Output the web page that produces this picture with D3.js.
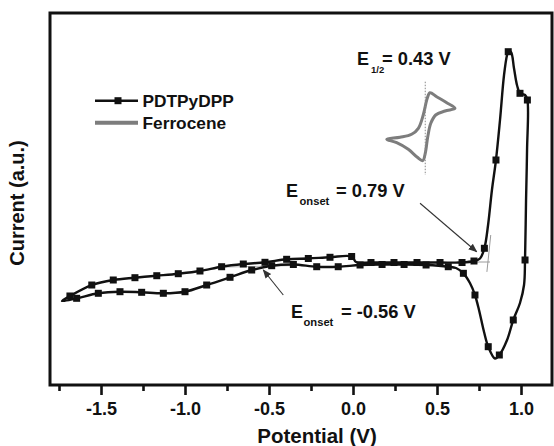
<!DOCTYPE html>
<html><head><meta charset="utf-8">
<script src="https://cdn.jsdelivr.net/npm/d3@7"></script>
<style>
html,body{margin:0;padding:0;background:#fff;}
svg{display:block;font-family:"Liberation Sans",Arial,sans-serif;font-weight:bold;}
</style></head>
<body><svg id="chart" width="554" height="446"></svg>
<script>
// ---- data ----
const majorTicks = [-1.5, -1.0, -0.5, 0.0, 0.5, 1.0];
const tickLabels = ["-1.5", "-1.0", "-0.5", "0.0", "0.5", "1.0"];
const minorTicks = [-1.75, -1.25, -0.75, -0.25, 0.25, 0.75];

// PDTPyDPP cyclic voltammogram (potential V, current a.u., marker flag)
const pdtPotential = [-1.732,-1.685,-1.555,-1.427,-1.298,-1.168,-1.040,-0.911,-0.782,-0.653,-0.524,-0.395,-0.266,-0.137,-0.008,
  0.018,0.107,0.244,0.381,0.518,0.649,0.720,0.756,0.782,0.804,0.827,0.851,0.875,0.899,0.917,0.924,0.940,0.958,0.976,0.994,1.024,1.038,
  1.036,1.030,1.024,1.018,0.994,0.954,0.917,0.871,0.845,0.805,0.780,0.750,0.726,0.696,0.657,0.613,0.567,
  0.435,0.304,0.173,0.042,-0.088,-0.216,-0.355,-0.484,-0.603,-0.732,-0.871,-1.000,-1.129,-1.258,-1.387,-1.516,-1.645];
const pdtCurrent = [-1.30,-1.133,-0.767,-0.600,-0.523,-0.457,-0.390,-0.300,-0.157,-0.067,-0.010,0.090,0.117,0.157,0.183,
  0.000,-0.017,-0.017,-0.017,-0.017,-0.017,0.033,0.117,0.457,1.233,2.400,3.400,4.733,6.233,6.900,7.010,7.000,6.467,5.900,5.623,5.567,5.400,
  3.733,2.067,0.067,-0.767,-1.367,-1.933,-2.600,-3.100,-3.217,-2.823,-2.333,-1.600,-1.100,-0.700,-0.377,-0.200,-0.157,
  -0.100,-0.083,-0.083,-0.100,-0.157,-0.157,-0.083,-0.123,-0.267,-0.510,-0.767,-0.990,-1.043,-1.010,-0.990,-1.043,-1.210];
const pdtMarker = [0,1,1,1,1,1,1,1,1,1,1,1,1,1,1,
  0,1,1,1,1,1,1,0,1,0,0,1,0,0,0,1,0,0,0,1,0,1,
  0,0,1,0,0,1,0,1,0,1,0,0,1,0,1,0,1,
  1,1,1,1,1,1,1,1,1,1,1,1,1,1,1,1,1];

// Ferrocene inset loop
const fcPotential = [0.201,0.280,0.349,0.389,0.418,0.442,0.458,0.498,0.558,0.607,0.548,0.492,0.463,0.445,0.430,0.415,0.383,0.329,0.260];
const fcCurrent   = [4.090,4.157,4.257,4.457,4.900,5.457,5.643,5.510,5.310,5.123,5.033,4.900,4.623,4.177,3.623,3.377,3.490,3.757,3.977];

const eHalf = 0.43;
const seriesNames = ["PDTPyDPP", "Ferrocene"];

// ---- chart ----
const svg = d3.select("#chart");
const L = 50, R = 552, T = 13, B = 385;
const x = d3.scaleLinear().domain([-1.8036, 1.1845]).range([L, R]);
const y = d3.scaleLinear().domain([-4.1, 8.3]).range([B, T]);
const black = "#111";
const grey = "#7d7d7d";

// tangent helper lines
const thin = svg.append("g").attr("stroke", "#9a9a9a").attr("stroke-width", 1).attr("fill", "none");
thin.append("line").attr("x1", x(0.62)).attr("x2", x(0.815)).attr("y1", y(0)).attr("y2", y(0));
thin.append("line").attr("x1", x(0.797)).attr("x2", x(0.82)).attr("y1", y(-0.33)).attr("y2", y(0.9));
thin.append("line").attr("x1", x(-0.76)).attr("x2", x(-0.36)).attr("y1", y(-0.17)).attr("y2", y(-0.12)).attr("stroke", "#bbb");

// ferrocene
const fcPts = fcPotential.map((v, i) => [v, fcCurrent[i]]);
svg.append("path").datum(fcPts)
  .attr("d", d3.line().x(d => x(d[0])).y(d => y(d[1])).curve(d3.curveCatmullRomClosed.alpha(0.5)))
  .attr("fill", "none").attr("stroke", grey).attr("stroke-width", 3);
svg.append("line").attr("x1", x(eHalf)).attr("x2", x(eHalf)).attr("y1", y(6.01)).attr("y2", y(2.90))
  .attr("stroke", "#888").attr("stroke-width", 1).attr("stroke-dasharray", "1.5,1.5");

// PDTPyDPP
const pdtPts = pdtPotential.map((v, i) => [v, pdtCurrent[i], pdtMarker[i]]);
svg.append("path").datum(pdtPts)
  .attr("d", d3.line().x(d => x(d[0])).y(d => y(d[1])).curve(d3.curveCatmullRomClosed.alpha(0.5)))
  .attr("fill", "none").attr("stroke", black).attr("stroke-width", 2.4).attr("stroke-linejoin", "round");
const ms = 7;
svg.append("g").selectAll("rect").data(pdtPts.filter(d => d[2])).join("rect")
  .attr("x", d => x(d[0]) - ms / 2).attr("y", d => y(d[1]) - ms / 2)
  .attr("width", ms).attr("height", ms).attr("fill", black);

// arrows
const defs = svg.append("defs");
defs.append("marker").attr("id", "ah").attr("viewBox", "0 0 10 10").attr("refX", 9).attr("refY", 5)
  .attr("markerWidth", 9).attr("markerHeight", 9).attr("markerUnits", "userSpaceOnUse").attr("orient", "auto")
  .append("path").attr("d", "M0,1 L10,5 L0,9 Z").attr("fill", "#333");
svg.append("line").attr("x1", x(0.399)).attr("y1", y(1.957)).attr("x2", x(0.736)).attr("y2", y(0.343))
  .attr("stroke", "#333").attr("stroke-width", 1.1).attr("marker-end", "url(#ah)");
svg.append("line").attr("x1", x(-0.415)).attr("y1", y(-1.10)).attr("x2", x(-0.534)).attr("y2", y(-0.267))
  .attr("stroke", "#333").attr("stroke-width", 1.1).attr("marker-end", "url(#ah)");

// annotations
function ann(xE, yb, sub, xSub, subSize, rest, xRest) {
  const g = svg.append("g").attr("fill", black);
  g.append("text").attr("x", xE).attr("y", yb).attr("font-size", 18).text("E");
  g.append("text").attr("x", xSub).attr("y", yb + 8).attr("font-size", subSize).text(sub);
  g.append("text").attr("x", xRest).attr("y", yb).attr("font-size", 18.3).text(rest);
}
ann(357, 65, "1/2", 371, 9.5, "= 0.43 V", 382);
ann(286, 196.5, "onset", 299.5, 11.2, "= 0.79 V", 336);
ann(291, 317.5, "onset", 303.5, 11.2, "= -0.56 V", 341);

// frame
svg.append("rect").attr("x", L).attr("y", T).attr("width", R - L).attr("height", B - T)
  .attr("fill", "none").attr("stroke", black).attr("stroke-width", 3);

// axis
const ax = svg.append("g").attr("transform", `translate(0,${B + 1})`)
  .call(d3.axisBottom(x).tickValues(majorTicks).tickSize(9).tickSizeOuter(0)
    .tickFormat((d, i) => tickLabels[i]).tickPadding(7));
ax.select(".domain").remove();
ax.selectAll(".tick line").attr("stroke", black).attr("stroke-width", 2.6);
ax.selectAll(".tick text").attr("font-size", 18).attr("font-weight", "bold").attr("fill", black)
  .attr("font-family", "'Liberation Sans',Arial,sans-serif");
const axm = svg.append("g").attr("transform", `translate(0,${B + 1})`)
  .call(d3.axisBottom(x).tickValues(minorTicks).tickSize(5).tickSizeOuter(0).tickFormat(""));
axm.select(".domain").remove();
axm.selectAll(".tick line").attr("stroke", black).attr("stroke-width", 2.6);

// axis titles
svg.append("text").attr("x", 317).attr("y", 443).attr("text-anchor", "middle")
  .attr("font-size", 20.5).attr("fill", black).text("Potential (V)");
svg.append("text").attr("transform", "translate(24,203) rotate(-90)").attr("text-anchor", "middle")
  .attr("font-size", 20).attr("fill", black).text("Current (a.u.)");

// legend
const lg = svg.append("g");
lg.append("line").attr("x1", 95).attr("x2", 138).attr("y1", 100.7).attr("y2", 100.7).attr("stroke", black).attr("stroke-width", 2.4);
lg.append("rect").attr("x", 118 - ms / 2).attr("y", 100.7 - ms / 2).attr("width", ms).attr("height", ms).attr("fill", black);
lg.append("line").attr("x1", 95).attr("x2", 138).attr("y1", 122.7).attr("y2", 122.7).attr("stroke", grey).attr("stroke-width", 4);
lg.append("text").attr("x", 142.5).attr("y", 106.5).attr("font-size", 17.3).attr("fill", black).text(seriesNames[0]);
lg.append("text").attr("x", 142.5).attr("y", 128.5).attr("font-size", 17.3).attr("fill", black).text(seriesNames[1]);
</script></body></html>
